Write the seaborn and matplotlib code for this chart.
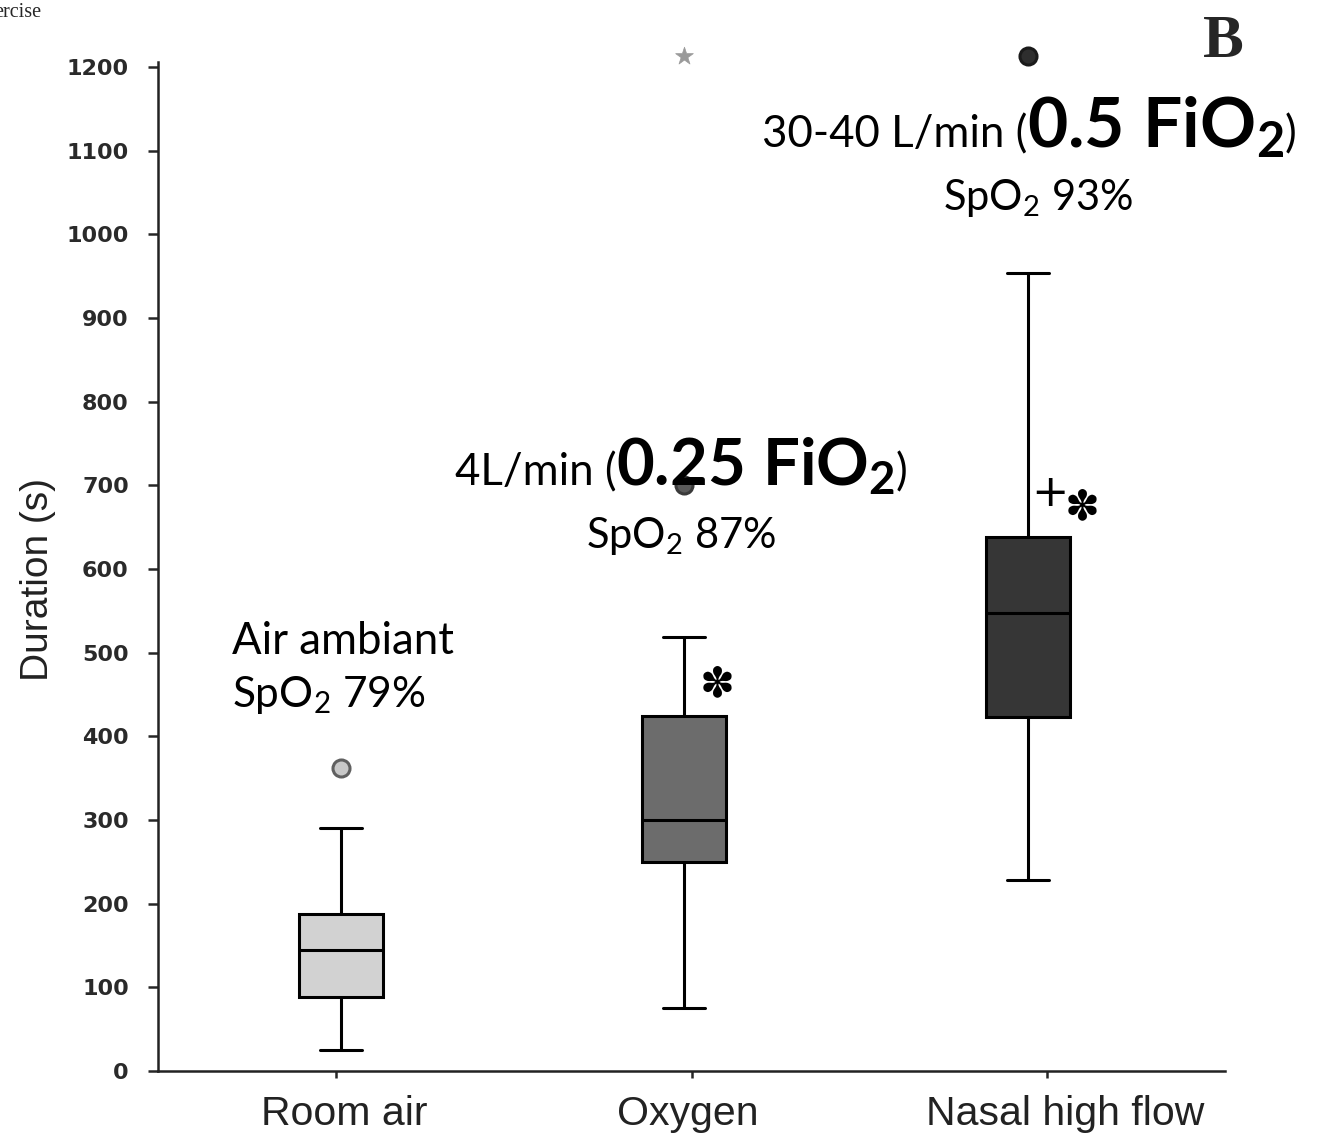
import matplotlib
matplotlib.use("Agg")
import matplotlib.pyplot as plt
import seaborn as sns
import pandas as pd
import numpy as np

# ---- data ----
groups = ["Room air", "Oxygen", "Nasal high flow"]
box_x = [0.014, 0.979, 1.947]          # box centres on the category axis
label_x = [0.025, 0.990, 2.051]        # centres of the category labels
mins    = [25, 75, 228]
q1s     = [88, 250, 423]
medians = [145, 300, 547]
q3s     = [188, 424, 638]
maxs    = [290, 519, 954]
outlier_x = [0.014, 0.979, 0.979, 1.947]
outlier_y = [362, 701, 1213, 1213]
outlier_marker = ["o", "o", "*", "o"]
outlier_face = ["#c8c8c8", "#5a5a5a", "#9a9a9a", "#2e2e2e"]
outlier_edge = ["#606060", "#3a3a3a", "#9a9a9a", "#1a1a1a"]
box_colors = ["#d2d2d2", "#6c6c6c", "#363636"]
yticks = [0, 100, 200, 300, 400, 500, 600, 700, 800, 900, 1000, 1100, 1200]

rows = []
for g, xp, a, b, c, d, e in zip(groups, box_x, mins, q1s, medians, q3s, maxs):
    for v in (a, b, c, d, e):
        rows.append({"group": g, "pos": xp, "duration": v})
df = pd.DataFrame(rows)

sns.set_theme(style="ticks")
plt.rcParams["font.family"] = ["Liberation Sans", "DejaVu Sans"]
plt.rcParams["mathtext.fontset"] = "custom"
plt.rcParams["mathtext.rm"] = "Lato"
plt.rcParams["mathtext.it"] = "Lato:italic"
plt.rcParams["mathtext.bf"] = "Lato:bold"

fig = plt.figure(figsize=(13.23, 11.37), dpi=100)
ax = fig.add_axes([0.1194, 0.058, 0.8066, 0.8875])

sns.boxplot(data=df, x="pos", y="duration", hue="group", native_scale=True,
            palette=dict(zip(groups, box_colors)), width=0.245, whis=(0, 100),
            linecolor="black", linewidth=2.2, legend=False, ax=ax,
            dodge=False, showfliers=False)

for xo, yo, m, fc, ec in zip(outlier_x, outlier_y, outlier_marker, outlier_face, outlier_edge):
    ax.scatter([xo], [yo], marker=m, s=150 if m == "o" else 180, facecolor=fc,
               edgecolor=ec, linewidth=2.2 if m == "o" else 0.5, zorder=2, clip_on=False)

ax.set_xlim(-0.5, 2.5)
ax.set_ylim(0, 1206)
# labels on major ticks (no marks), tick marks on minor ticks
ax.set_xticks(label_x)
ax.set_xticklabels(groups, fontsize=29.5, family="Liberation Sans", color="#222222")
ax.set_xticks([0, 1, 2], minor=True)
ax.set_yticks(yticks)
ax.set_yticklabels([str(t) for t in yticks], fontsize=16, family="DejaVu Sans",
                   fontweight="semibold", color="#2a2a2a")
ax.set_xlabel("")
ax.set_ylabel("Duration (s)", fontsize=28, family="Liberation Sans", color="#222222")
ax.yaxis.set_label_coords(-0.096, 0.487)
ax.tick_params(axis="y", length=7, width=1.8, direction="out", pad=14)
ax.tick_params(axis="x", which="major", length=0, pad=17)
ax.tick_params(axis="x", which="minor", length=5, width=1.8, direction="out",
               labelbottom=False)
for s in ("top", "right"):
    ax.spines[s].set_visible(False)
for s in ("left", "bottom"):
    ax.spines[s].set_linewidth(1.8)
    ax.spines[s].set_color("#222222")

# significance marks
ax.text(1.072, 462, "✽", fontsize=30, ha="center", va="center", family="DejaVu Sans",
        color="black", zorder=5)
ax.text(2.007, 690, "+", fontsize=32, ha="center", va="center", family="DejaVu Sans",
        color="black", zorder=5)
ax.text(2.098, 674, "✽", fontsize=30, ha="center", va="center", family="DejaVu Sans",
        color="black", zorder=5)

# annotations
lab = dict(family="Lato", color="black", zorder=6)
ax.text(-0.292, 499, "Air ambiant", fontsize=31.5, ha="left", va="baseline", **lab)
ax.text(-0.292, 435, "SpO$_2$ 79%", fontsize=30.5, ha="left", va="baseline", **lab)

def big_line(x, y, pre, bold, size, bsize):
    t1 = ax.text(x, y, pre, fontsize=size, ha="left", va="baseline", **lab)
    t2 = ax.annotate(bold, xy=(1, y), xycoords=(t1, "data"), fontsize=bsize,
                     ha="left", va="baseline", annotation_clip=False, **lab)
    ax.annotate(")", xy=(1, y), xycoords=(t2, "data"), fontsize=size,
                ha="left", va="baseline", annotation_clip=False, **lab)

big_line(0.334, 700, "4L/min (", r"$\mathbf{0.25\ FiO_2}$", 31.5, 47)
ax.text(0.97, 625, "SpO$_2$ 87%", fontsize=30, ha="center", va="baseline", **lab)
big_line(1.198, 1104, "30-40 L/min (", r"$\mathbf{0.5\ FiO_2}$", 31.5, 50)
ax.text(1.973, 1029, "SpO$_2$ 93%", fontsize=30, ha="center", va="baseline", **lab)

fig.text(-0.004, 0.997, "ercise", fontsize=14.5, family="Liberation Serif", ha="left", va="top")
fig.text(0.9245, 0.988, "B", fontsize=44, family="Liberation Serif", fontweight="bold",
         ha="center", va="top")

fig.savefig("out.png", dpi=100)
